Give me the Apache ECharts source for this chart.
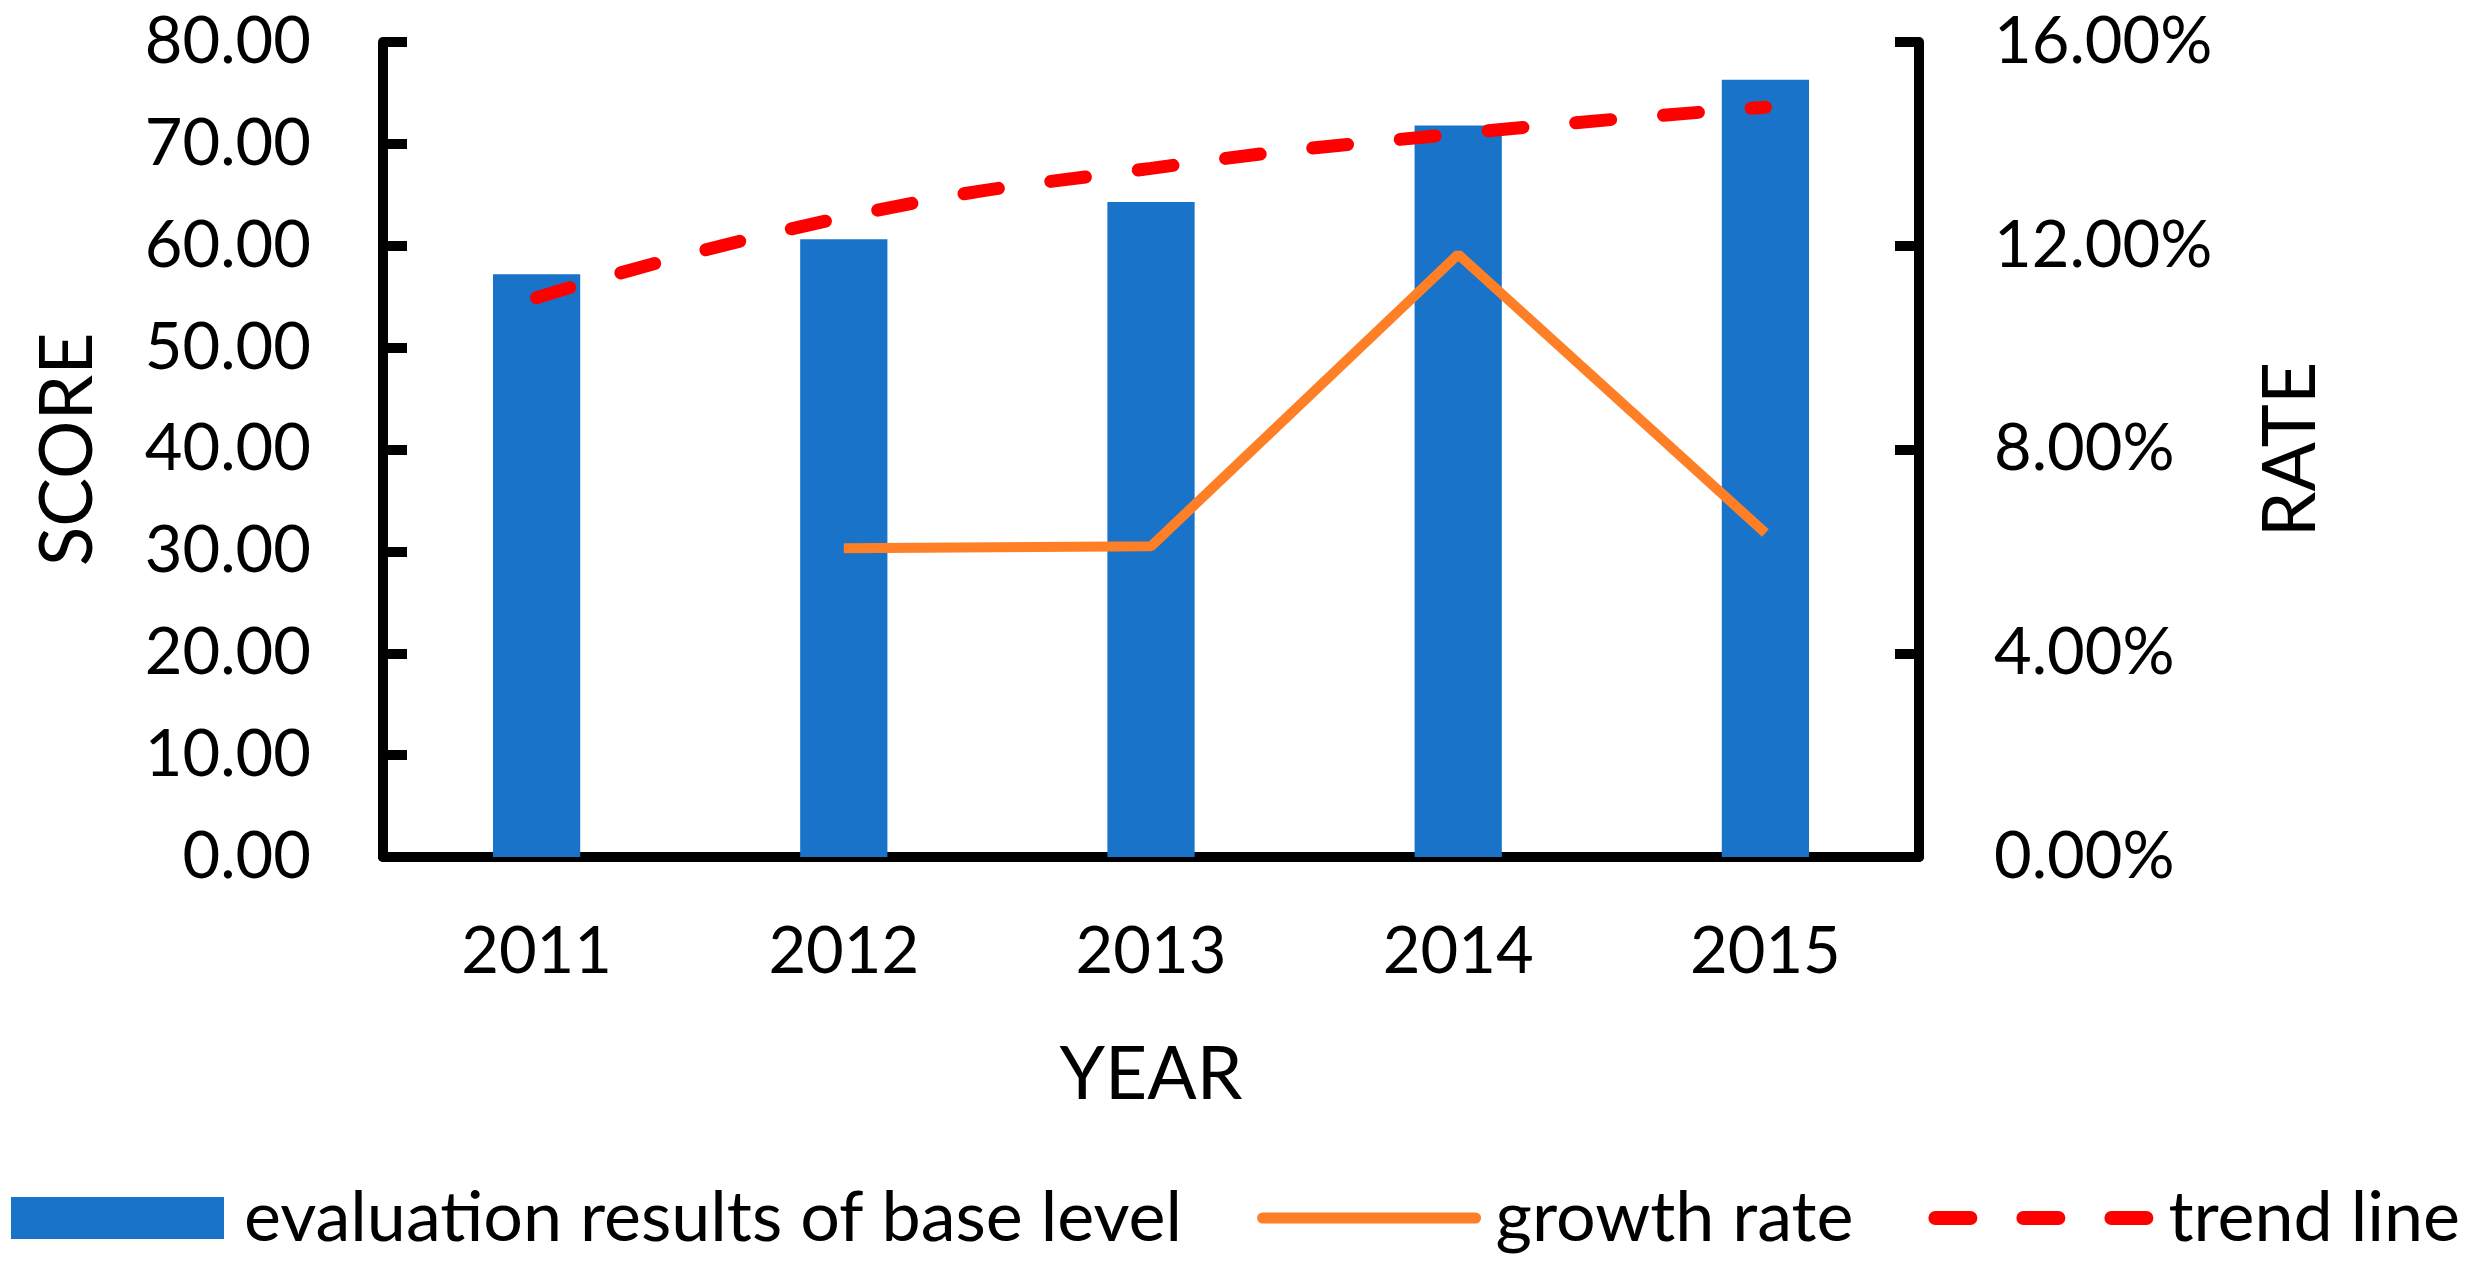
<!DOCTYPE html>
<html>
<head>
<meta charset="utf-8">
<script src="https://cdn.jsdelivr.net/npm/echarts@6/dist/echarts.min.js"></script>
<style>
html,body{margin:0;padding:0;background:#fff;}
#chart{width:2471px;height:1265px;}
</style>
</head>
<body>
<div id="chart"></div>
<script>
const years = ['2011', '2012', '2013', '2014', '2015'];
const baseScores = [57.2, 60.65, 64.3, 71.8, 76.3];
const growthRates = [null, 6.06, 6.1, 11.83, 6.36];
const trendValues = [54.9, 62.8, 67.6, 71.0, 73.6];
const seriesNames = ['evaluation results of base level', 'growth rate', 'trend line'];

const FONT = 'Lato';
const chart = echarts.init(document.getElementById('chart'));
const axisLineStyle = { color: '#000', width: 10 };

chart.setOption({
  animation: false,
  backgroundColor: '#fff',
  textStyle: { fontFamily: FONT, color: '#000' },
  grid: { left: 383, right: 552, top: 42, bottom: 408 },
  legend: {
    left: 'center',
    top: 1183,
    padding: 0,
    itemWidth: 213,
    itemHeight: 42,
    itemGap: 75,
    textStyle: { fontFamily: FONT, fontSize: 70, color: '#000', padding: [0, 0, 0, 15] },
    data: [
      { name: seriesNames[0], icon: 'rect' },
      { name: seriesNames[1], lineStyle: { width: 11, cap: 'round' }, itemStyle: { opacity: 0 } },
      { name: seriesNames[2], lineStyle: { width: 14, type: [35, 53], cap: 'round' }, itemStyle: { opacity: 0 } }
    ]
  },
  xAxis: {
    type: 'category',
    data: years,
    name: 'YEAR',
    nameLocation: 'middle',
    nameGap: 182,
    nameTextStyle: { fontFamily: FONT, fontSize: 73, color: '#000' },
    axisLine: { lineStyle: axisLineStyle },
    axisTick: { show: false },
    axisLabel: { fontFamily: FONT, fontSize: 65, color: '#000', margin: 63 }
  },
  yAxis: [
    {
      type: 'value',
      min: 0, max: 80, interval: 10,
      name: 'SCORE',
      nameLocation: 'middle',
      nameGap: 278,
      nameRotate: 90,
      nameTextStyle: { fontFamily: FONT, fontSize: 73, color: '#000' },
      axisLine: { show: true, lineStyle: axisLineStyle },
      axisTick: { show: true, inside: true, length: 24, lineStyle: { color: '#000', width: 10 } },
      splitLine: { show: false },
      axisLabel: { fontFamily: FONT, fontSize: 65, color: '#000', margin: 72,
        formatter: v => v.toFixed(2) }
    },
    {
      type: 'value',
      min: 0, max: 16, interval: 4,
      name: 'RATE',
      nameLocation: 'middle',
      nameGap: 336,
      nameRotate: 90,
      nameTextStyle: { fontFamily: FONT, fontSize: 73, color: '#000' },
      axisLine: { show: true, lineStyle: axisLineStyle },
      axisTick: { show: true, inside: true, length: 24, lineStyle: { color: '#000', width: 10 } },
      splitLine: { show: false },
      axisLabel: { fontFamily: FONT, fontSize: 65, color: '#000', margin: 75,
        formatter: v => v.toFixed(2) + '%' }
    }
  ],
  series: [
    {
      name: seriesNames[0],
      type: 'bar',
      data: baseScores,
      barWidth: '28.4%',
      itemStyle: { color: '#1873C9' }
    },
    {
      name: seriesNames[1],
      type: 'line',
      yAxisIndex: 1,
      data: growthRates,
      symbol: 'none',
      lineStyle: { color: '#FF7F27', width: 10 },
      itemStyle: { color: '#FF7F27' }
    },
    {
      name: seriesNames[2],
      type: 'line',
      data: trendValues,
      symbol: 'none',
      smooth: true,
      lineStyle: { color: '#FF0000', width: 13, type: [35, 53], cap: 'round' },
      itemStyle: { color: '#FF0000' }
    }
  ]
});
</script>
</body>
</html>
